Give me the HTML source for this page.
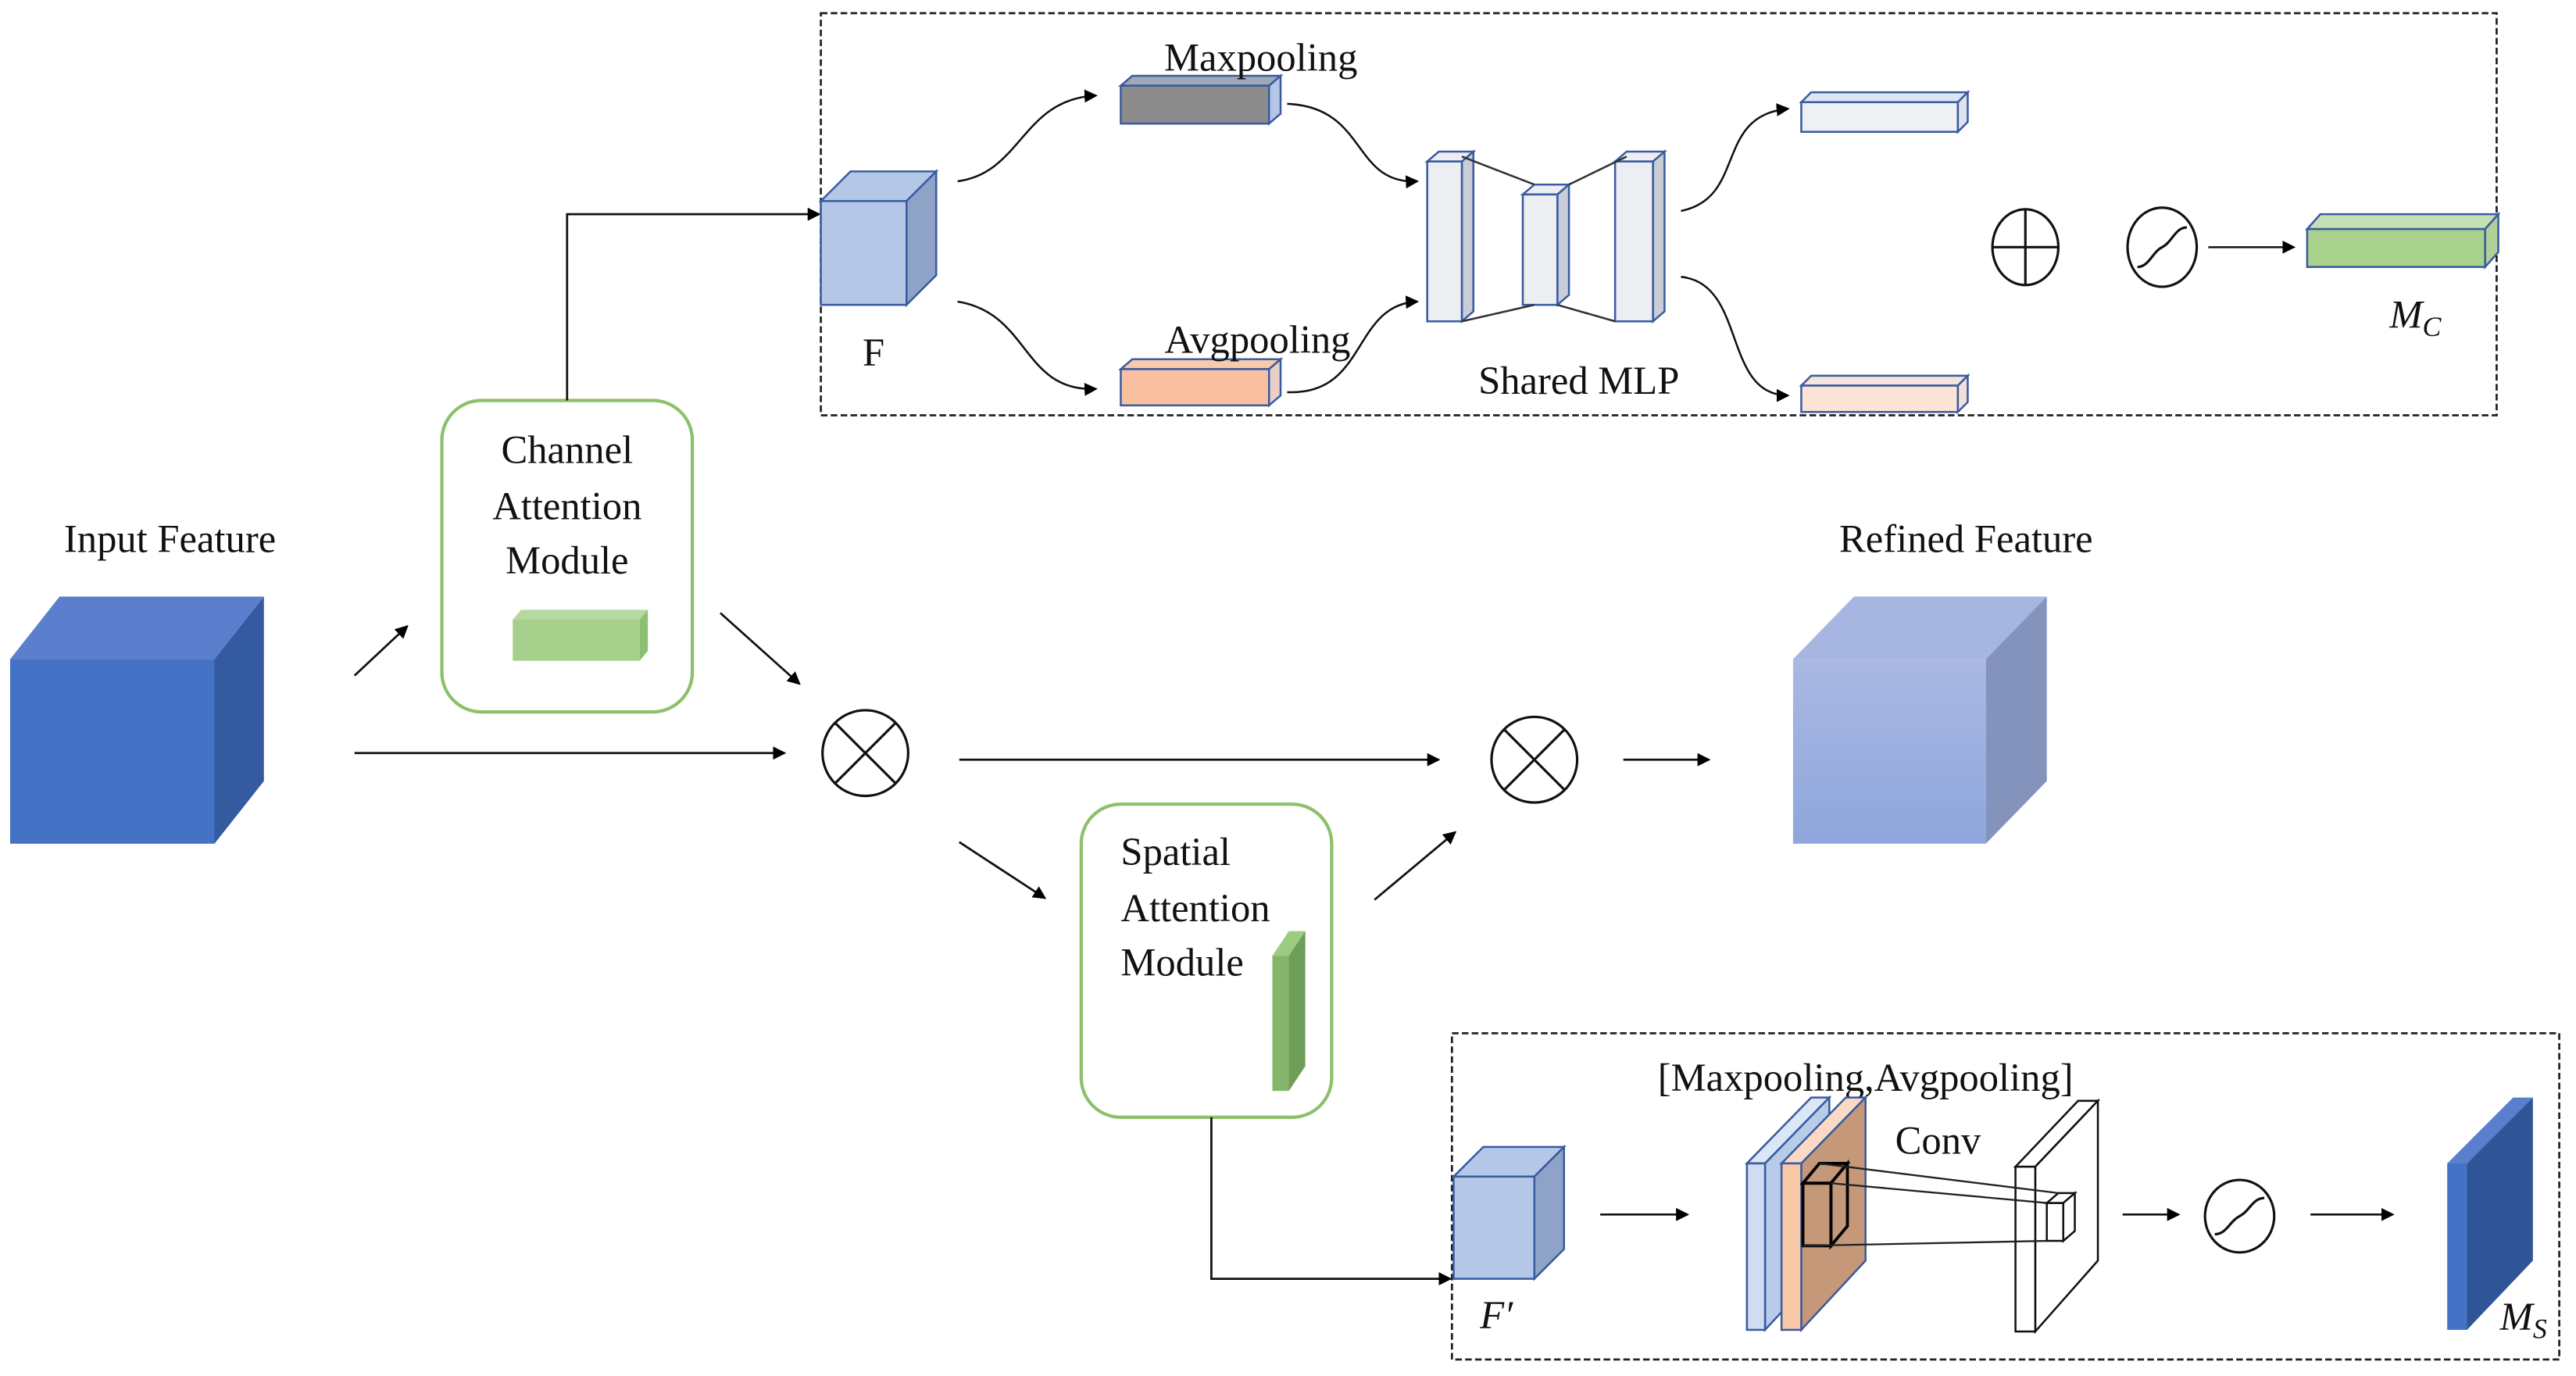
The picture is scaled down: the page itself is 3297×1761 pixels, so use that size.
<!DOCTYPE html>
<html><head><meta charset="utf-8"><style>
html,body{margin:0;padding:0;background:#fff;}
svg{display:block;}
text{font-family:"Liberation Serif",serif;fill:#111;}
</style></head><body>
<svg width="3297" height="1761" viewBox="0 0 1563 835" xmlns="http://www.w3.org/2000/svg">
<defs>
<marker id="a" markerWidth="8" markerHeight="8" refX="7" refY="4" orient="auto" markerUnits="userSpaceOnUse"><path d="M0,0 L8,4 L0,8 z" fill="#000"/></marker>
<linearGradient id="rg" x1="0" y1="0" x2="0" y2="1"><stop offset="0" stop-color="#aab8e2"/><stop offset="1" stop-color="#8ea6dc"/></linearGradient>
</defs>
<g fill="none" stroke="#222" stroke-width="1.3" stroke-dasharray="4,2">
<rect x="498" y="8" width="1017" height="244"/>
<rect x="881" y="627" width="672" height="198"/>
</g>

<!-- Input cube -->
<polygon points="6,400 36,362 160,362 130,400" fill="#5b7fcc"/>
<polygon points="130,400 160,362 160,474 130,512" fill="#345aa0"/>
<rect x="6" y="400" width="124" height="112" fill="#4472c4"/>
<text x="103" y="335" font-size="24" text-anchor="middle">Input Feature</text>

<!-- Refined cube -->
<polygon points="1088,400 1125,362 1242,362 1205,400" fill="#a6b6e0"/>
<polygon points="1205,400 1242,362 1242,474 1205,512" fill="#8393bb"/>
<rect x="1088" y="400" width="117" height="112" fill="url(#rg)"/>
<text x="1193" y="335" font-size="24" text-anchor="middle">Refined Feature</text>

<!-- Channel attention module -->
<rect x="268" y="243" width="152" height="189" rx="24" fill="none" stroke="#8cc06a" stroke-width="2"/>
<text x="344" y="281" font-size="24" text-anchor="middle">Channel</text>
<text x="344" y="315" font-size="24" text-anchor="middle">Attention</text>
<text x="344" y="348" font-size="24" text-anchor="middle">Module</text>
<polygon points="311,376 316,370 393,370 388,376" fill="#b5d9a0"/>
<polygon points="388,376 393,370 393,395 388,401" fill="#8dbf73"/>
<rect x="311" y="376" width="77" height="25" fill="#a8d08d"/>

<!-- Spatial attention module -->
<rect x="656" y="488" width="152" height="190" rx="24" fill="none" stroke="#8cc06a" stroke-width="2"/>
<text x="680" y="525" font-size="24">Spatial</text>
<text x="680" y="559" font-size="24">Attention</text>
<text x="680" y="592" font-size="24">Module</text>
<polygon points="772,580 782,565 792,565 782,580" fill="#9ccc80"/>
<polygon points="782,580 792,565 792,647 782,662" fill="#6e9e58"/>
<rect x="772" y="580" width="10" height="82" fill="#85b56a"/>

<!-- connectors main -->
<g stroke="#111" stroke-width="1.3" fill="none" marker-end="url(#a)">
<polyline points="344,243 344,130 497,130"/>
<line x1="215" y1="410" x2="247" y2="380"/>
<line x1="215" y1="457" x2="476" y2="457"/>
<line x1="437" y1="372" x2="485" y2="415"/>
<line x1="582" y1="461" x2="873" y2="461"/>
<line x1="985" y1="461" x2="1037" y2="461"/>
<line x1="582" y1="511" x2="634" y2="545"/>
<line x1="834" y1="546" x2="883" y2="505"/>
<polyline points="735,678 735,776 880,776"/>
</g>
<g stroke="#111" stroke-width="1.5" fill="none">
<circle cx="525" cy="457" r="26"/><line x1="507" y1="439" x2="543" y2="475"/><line x1="543" y1="439" x2="507" y2="475"/>
<circle cx="931" cy="461" r="26"/><line x1="913" y1="443" x2="949" y2="479"/><line x1="949" y1="443" x2="913" y2="479"/>
</g>

<!-- F cube -->
<polygon points="498,122 516,104 568,104 550,122" fill="#b4c7e7" stroke="#3a5ba0" stroke-width="1.2"/>
<polygon points="550,122 568,104 568,167 550,185" fill="#8fa3c8" stroke="#3a5ba0" stroke-width="1.2"/>
<rect x="498" y="122" width="52" height="63" fill="#b4c7e7" stroke="#3a5ba0" stroke-width="1.2"/>
<text x="530" y="222" font-size="24" text-anchor="middle">F</text>

<!-- pooling bars -->
<g stroke="#3a5ba0" stroke-width="1.2">
<polygon points="680,52 687,46 777,46 770,52" fill="#a0a8b8"/>
<polygon points="770,52 777,46 777,69 770,75" fill="#b4c7e7"/>
<rect x="680" y="52" width="90" height="23" fill="#8c8c8c"/>
<polygon points="680,224 687,218 777,218 770,224" fill="#f8cbad"/>
<polygon points="770,224 777,218 777,240 770,246" fill="#e8d0c8"/>
<rect x="680" y="224" width="90" height="22" fill="#f8c0a0"/>
</g>
<text x="765" y="43" font-size="24" text-anchor="middle">Maxpooling</text>
<text x="763" y="214" font-size="24" text-anchor="middle">Avgpooling</text>

<!-- MLP -->
<g stroke="#3a5ba0" stroke-width="1.2" fill="#eceef2">
<polygon points="866,98 873,92 894,92 887,98"/><polygon points="887,98 894,92 894,189 887,195" fill="#c8cdd8"/><rect x="866" y="98" width="21" height="97"/>
<polygon points="924,118 931,112 952,112 945,118"/><polygon points="945,118 952,112 952,179 945,185" fill="#c8cdd8"/><rect x="924" y="118" width="21" height="67"/>
<polygon points="980,98 987,92 1010,92 1003,98"/><polygon points="1003,98 1010,92 1010,189 1003,195" fill="#c8cdd8"/><rect x="980" y="98" width="23" height="97"/>
</g>
<g stroke="#333" stroke-width="1.2">
<line x1="887" y1="95" x2="931" y2="112"/><line x1="887" y1="195" x2="931" y2="185"/>
<line x1="952" y1="112" x2="987" y2="95"/><line x1="945" y1="185" x2="980" y2="195"/>
</g>
<text x="958" y="239" font-size="24" text-anchor="middle">Shared MLP</text>

<g stroke="#3a5ba0" stroke-width="1.2">
<polygon points="1093,62 1099,56 1194,56 1188,62" fill="#dde6f4"/><polygon points="1188,62 1194,56 1194,74 1188,80" fill="#dde3ee"/><rect x="1093" y="62" width="95" height="18" fill="#eef0f4"/>
<polygon points="1093,234 1099,228 1194,228 1188,234" fill="#f4e4dc"/><polygon points="1188,234 1194,228 1194,244 1188,250" fill="#f0e0d8"/><rect x="1093" y="234" width="95" height="16" fill="#fbe3d6"/>
</g>

<!-- curves -->
<g stroke="#111" stroke-width="1.2" fill="none" marker-end="url(#a)">
<path d="M581,110 C620,105 620,60 665,58"/>
<path d="M581,183 C625,190 620,238 665,236"/>
<path d="M781,63 C830,65 820,112 860,110"/>
<path d="M781,238 C830,240 820,185 860,183"/>
<path d="M1020,128 C1060,120 1040,70 1085,66"/>
<path d="M1020,168 C1060,172 1045,240 1085,240"/>
<line x1="1340" y1="150" x2="1392" y2="150"/>
<line x1="971" y1="737" x2="1024" y2="737"/>
<line x1="1288" y1="737" x2="1322" y2="737"/>
<line x1="1402" y1="737" x2="1452" y2="737"/>
</g>
<g stroke="#111" stroke-width="1.5" fill="none">
<ellipse cx="1229" cy="150" rx="20" ry="23"/><line x1="1209" y1="150" x2="1249" y2="150"/><line x1="1229" y1="127" x2="1229" y2="173"/>
<ellipse cx="1312" cy="150" rx="21" ry="24"/><path d="M1297,162 C1304,162 1306,153 1312,150 C1318,147 1320,138 1327,138"/>
<ellipse cx="1359" cy="738" rx="21" ry="22"/><path d="M1344,749 C1351,749 1353,741 1359,738 C1365,735 1367,727 1374,727"/>
</g>

<!-- Mc -->
<g stroke="#3a5ba0" stroke-width="1.2">
<polygon points="1400,139 1408,130 1516,130 1508,139" fill="#c5e0b4"/>
<polygon points="1508,139 1516,130 1516,153 1508,162" fill="#b0d09a"/>
<rect x="1400" y="139" width="108" height="23" fill="#a9d18e"/>
</g>
<text x="1450" y="199" font-size="24" font-style="italic">M<tspan font-size="17" dy="5">C</tspan></text>

<!-- F' -->
<g stroke="#3a5ba0" stroke-width="1.2">
<polygon points="882,714 900,696 949,696 931,714" fill="#b4c7e7"/>
<polygon points="931,714 949,696 949,758 931,776" fill="#8fa3c8"/>
<rect x="882" y="714" width="49" height="62" fill="#b4c7e7"/>
</g>
<text x="898" y="806" font-size="24" font-style="italic">F′</text>

<!-- stacked maps -->
<text x="1132" y="662" font-size="24" text-anchor="middle">[Maxpooling,Avgpooling]</text>
<g stroke="#3a5ba0" stroke-width="1.2">
<polygon points="1060,706 1099,666 1110,666 1071,706" fill="#dbe6f6"/>
<polygon points="1071,706 1110,666 1110,765 1071,807" fill="#b8cbe8"/>
<rect x="1060" y="706" width="11" height="101" fill="#cfdcf2"/>
<polygon points="1081,706 1120,666 1132,666 1093,706" fill="#fbd9c4"/>
<polygon points="1093,706 1132,666 1132,765 1093,807" fill="#c49878"/>
<rect x="1081" y="706" width="12" height="101" fill="#f8c7a5"/>
</g>
<g stroke="#000" stroke-width="1.8" fill="none">
<rect x="1094" y="718" width="17" height="38"/><polygon points="1094,718 1104,706 1121,706 1111,718"/><polygon points="1111,718 1121,706 1121,744 1111,756"/>
</g>
<text x="1176" y="700" font-size="24" text-anchor="middle">Conv</text>
<g stroke="#111" stroke-width="1.2" fill="#fff">
<polygon points="1223,708 1261,668 1273,668 1235,708"/>
<polygon points="1235,708 1273,668 1273,765 1235,808"/>
<rect x="1223" y="708" width="12" height="100"/>
<rect x="1242" y="730" width="10" height="23"/><polygon points="1242,730 1249,724 1259,724 1252,730"/><polygon points="1252,730 1259,724 1259,747 1252,753"/>
</g>
<g stroke="#222" stroke-width="1.1">
<line x1="1104" y1="706" x2="1249" y2="724"/><line x1="1111" y1="718" x2="1242" y2="730"/><line x1="1094" y1="756" x2="1242" y2="753"/>
</g>

<!-- Ms -->
<polygon points="1485,706 1525,666 1537,666 1497,706" fill="#5b7fcc"/>
<polygon points="1497,706 1537,666 1537,765 1497,807" fill="#2f5597"/>
<rect x="1485" y="706" width="12" height="101" fill="#4472c4"/>
<text x="1517" y="807" font-size="24" font-style="italic">M<tspan font-size="17" dy="5">S</tspan></text>
</svg>
</body></html>
